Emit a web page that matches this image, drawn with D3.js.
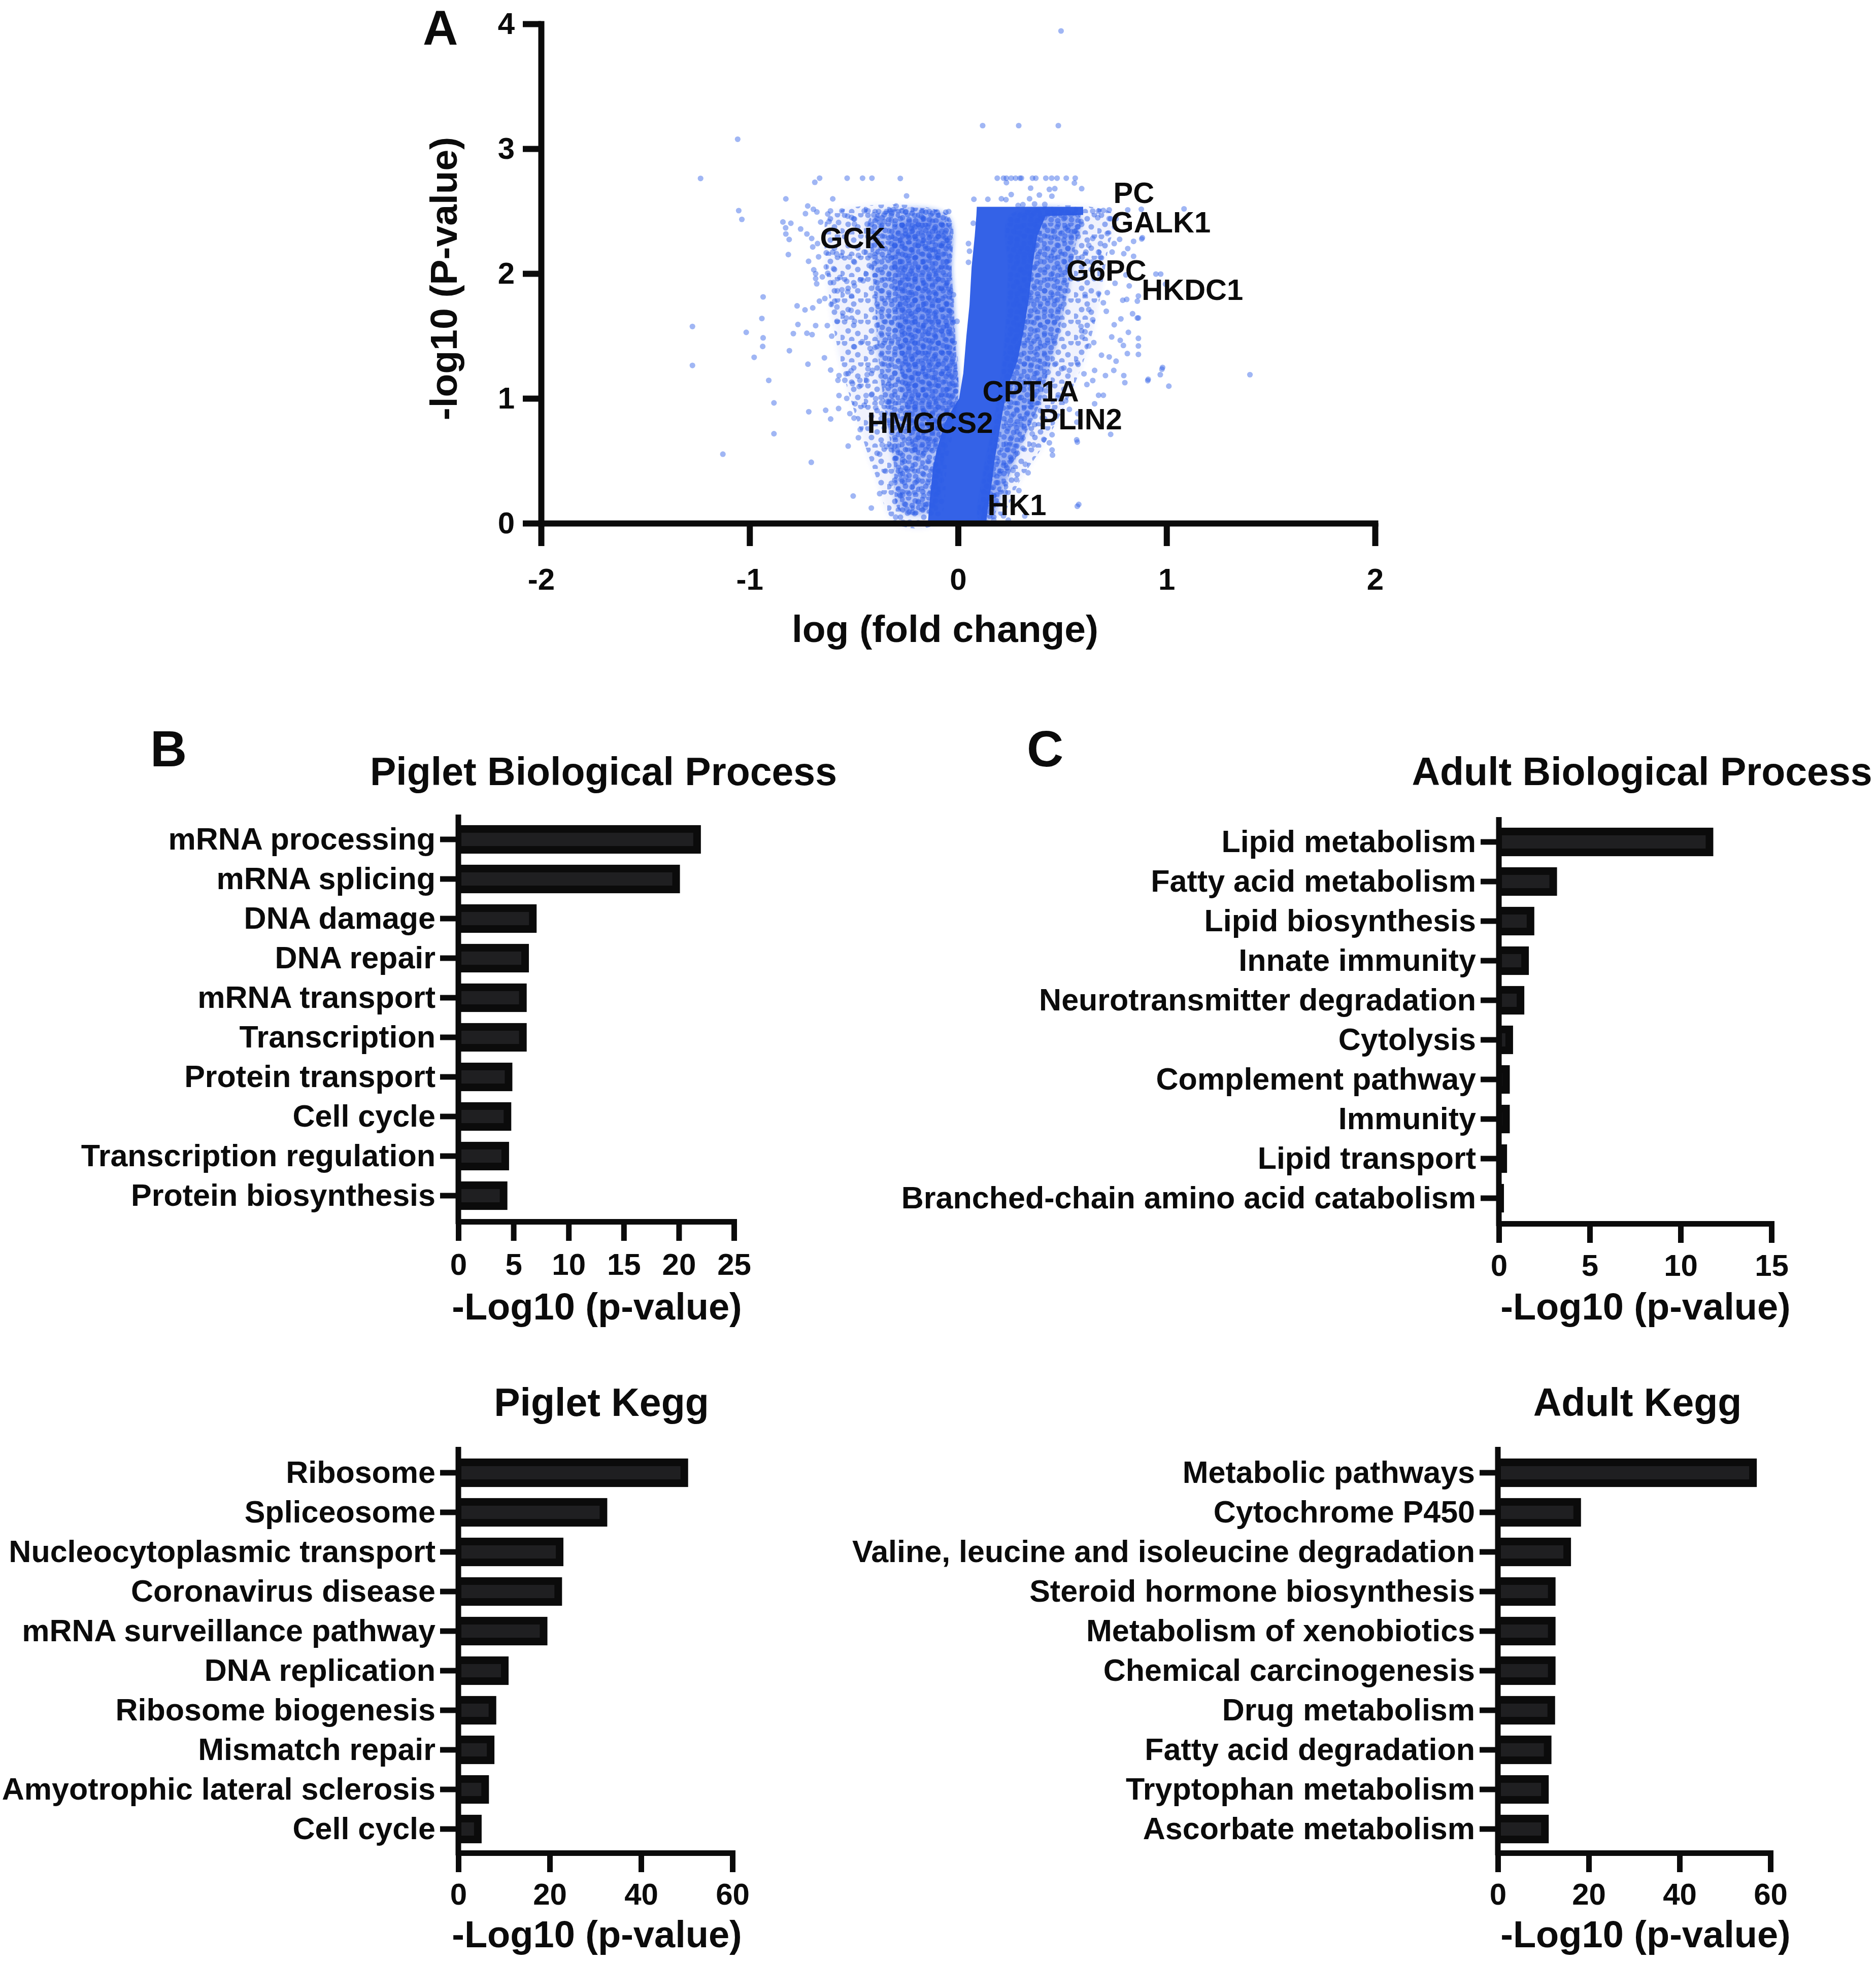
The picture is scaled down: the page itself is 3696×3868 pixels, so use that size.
<!DOCTYPE html>
<html><head><meta charset="utf-8">
<script src="https://cdn.jsdelivr.net/npm/d3@7"></script>
<style>
body{margin:0;background:#fff}
svg text{font-family:"Liberation Sans",Arial,Helvetica,sans-serif;font-weight:bold;fill:#0b0b0b}
</style>
</head><body>
<svg id="fig" width="3696" height="3868" xmlns="http://www.w3.org/2000/svg"></svg>
<script>
// ---------------- DATA ----------------
// Panel A: volcano plot, [log fold change, -log10 P]
const volcanoXTicks = [-2, -1, 0, 1, 2];
const volcanoYTicks = [0, 1, 2, 3, 4];
const volcanoPoints = [
[-1.057,3.076],[-1.235,2.762],[-0.664,2.764],[-0.687,2.731],[-0.532,2.764],[-0.458,2.764],[-0.413,2.764],[-0.277,2.762],[-0.247,2.622],[-0.826,2.598],[-0.601,2.598],[-1.052,2.504],[-1.037,2.434],[-0.721,2.541],[-0.732,2.480],[-0.694,2.515],[-0.677,2.493],[-0.612,2.502],[-0.557,2.502],[-0.625,2.477],[-0.529,2.460],[-0.511,2.450],[-0.497,2.437],[-0.450,2.502],[-0.432,2.502],[-0.381,2.497],[-0.343,2.497],[-0.325,2.502],[-0.311,2.511],[-0.297,2.541],[-0.269,2.502],[-0.250,2.497],[-0.171,2.497],[-0.138,2.497],[-0.101,2.493],[-0.059,2.491],[-0.045,2.497],[-0.840,2.413],[-0.827,2.366],[-0.802,2.403],[-0.826,2.317],[-0.810,2.273],[-0.814,2.152],[-0.755,2.357],[-0.717,2.098],[-0.659,2.412],[-0.619,2.416],[-0.573,2.409],[-0.497,2.396],[-0.436,2.396],[-0.404,2.470],[-0.376,2.409],[-0.353,2.416],[-0.320,2.427],[-0.269,2.389],[-0.218,2.385],[-0.180,2.365],[-0.176,2.457],[-0.078,2.338],[-0.061,2.285],[-0.725,2.317],[-0.702,2.281],[-0.697,2.213],[-0.674,2.240],[-0.669,2.134],[-0.632,2.166],[-0.601,2.172],[-0.583,2.159],[-0.560,2.142],[-0.632,2.053],[-0.597,2.039],[-0.692,2.030],[-0.683,1.999],[-0.683,1.960],[-0.678,1.918],[-0.651,1.973],[-0.625,2.002],[-0.597,1.928],[-0.567,1.969],[-0.534,1.938],[-0.579,1.861],[-0.557,1.870],[-0.529,1.854],[-0.511,1.820],[-0.497,1.901],[-0.469,1.949],[-0.455,1.942],[-0.441,1.996],[-0.426,2.064],[-0.497,2.091],[-0.520,2.132],[-0.478,2.145],[-0.450,2.172],[-0.422,2.145],[-0.935,1.813],[-0.941,1.640],[-1.274,1.576],[-0.772,1.741],[-0.734,1.709],[-0.697,1.725],[-0.665,1.779],[-0.639,1.800],[-0.608,1.752],[-0.592,1.779],[-0.581,1.732],[-0.768,1.592],[-0.683,1.583],[-0.627,1.583],[-0.581,1.617],[-0.553,1.684],[-0.536,1.644],[-0.513,1.705],[-0.497,1.617],[-0.022,1.830],[-0.005,1.617],[-0.320,2.240],[-0.236,2.308],[-0.190,2.254],[-0.134,2.186],[-0.087,2.227],[-0.097,2.145],
[-1.016,1.529],[-0.935,1.485],[-0.937,1.416],[-0.978,1.329],[-1.274,1.264],[-0.908,1.144],[-0.883,0.964],[-0.883,0.717],[-1.128,0.553],[-0.790,1.519],[-0.725,1.522],[-0.700,1.511],[-0.606,1.499],[-0.809,1.382],[-0.641,1.325],[-0.720,1.274],[-0.611,1.227],[-0.571,1.183],[-0.576,1.145],[-0.543,1.145],[-0.537,1.197],[-0.513,1.221],[-0.506,1.118],[-0.471,1.145],[-0.474,1.095],[-0.571,1.023],[-0.534,1.000],[-0.494,0.957],[-0.573,0.919],[-0.716,0.893],[-0.635,0.905],[-0.611,0.835],[-0.519,0.878],[-0.499,0.842],[-0.469,0.750],[-0.478,0.685],[-0.527,0.618],[-0.376,0.553],[-0.364,0.628],[-0.343,0.614],[-0.320,0.617],[-0.292,0.587],[-0.297,0.519],[-0.266,0.510],[-0.348,0.418],[-0.275,0.424],[-0.246,0.435],[-0.250,0.370],[-0.273,0.350],[-0.320,0.320],[-0.197,0.336],[-0.704,0.488],[-0.503,0.218],[-0.376,0.237],[-0.280,0.228],[-0.266,0.228],[-0.416,0.122],[-0.299,0.049],[-0.245,0.113],[-0.218,0.088],[-0.190,0.167],[-0.169,0.147],[-0.157,0.126],[-0.264,0.008],[-0.232,0.008],[-0.497,1.413],[-0.460,1.454],[-0.422,1.400],[-0.399,1.407],[-0.436,1.190],[-0.410,1.224],[-0.432,1.237],[-0.438,1.142],[-0.395,0.998],[-0.367,0.966],[-0.339,0.973],[-0.315,0.980],[-0.413,1.034],[-0.441,1.023],[-0.450,0.946],[-0.395,0.926],[-0.367,0.878],
[0.118,3.185],[0.291,3.185],[0.481,3.185],[0.494,3.943],
[0.188,2.764],[0.218,2.764],[0.232,2.764],[0.255,2.764],[0.276,2.764],[0.297,2.764],[0.304,2.764],[0.357,2.764],[0.373,2.764],[0.421,2.764],[0.449,2.764],[0.475,2.764],[0.519,2.764],[0.562,2.764],[0.232,2.728],[0.558,2.725],
[0.348,2.684],[0.438,2.674],[0.464,2.680],[0.593,2.680],[0.390,2.629],[0.450,2.620],[0.255,2.633],[0.230,2.592],[0.208,2.599],[0.076,2.595],[0.143,2.595],[0.343,2.599],[0.416,2.554],[0.367,2.558],[0.311,2.552],[0.288,2.545],
[0.646,2.500],[0.674,2.500],[0.697,2.505],[0.725,2.510],[0.725,2.440],[0.758,2.440],[0.814,2.510],[0.879,2.515],[1.084,2.518],
[0.590,2.416],[0.576,2.376],[0.516,2.362],[0.544,2.335],[0.572,2.321],[0.670,2.447],[0.716,2.321],[0.749,2.240],[0.775,2.274],[0.842,2.258],[0.884,2.287],[0.814,2.200],[0.795,2.159],[0.739,2.172],[0.842,2.138],[0.683,2.240],[0.674,2.172],[0.646,2.281],[0.627,2.226],[0.613,2.172],[0.595,2.132],[0.641,2.091],[0.683,2.132],
[0.949,1.996],[0.972,1.996],[0.995,1.915],[0.821,1.901],[0.753,1.922],[0.716,1.847],[0.674,1.840],[0.809,1.793],[0.860,1.779],[0.837,1.678],[0.860,1.644],[0.781,1.637],[0.697,1.766],[0.711,1.698],[0.749,1.590],[0.627,1.712],[0.646,1.630],[0.590,1.576],[0.609,1.833],
[0.050,2.240],[0.055,2.179],[0.050,2.090],[0.073,2.403],
[0.817,1.529],[0.737,1.492],[0.778,1.465],[0.793,1.424],[0.865,1.420],[0.865,1.352],[0.812,1.359],[0.758,1.298],[0.725,1.332],[0.688,1.346],[0.651,1.447],[0.627,1.420],[0.595,1.492],[0.609,1.533],[0.572,1.285],[0.604,1.197],[0.655,1.224],[0.707,1.183],[0.747,1.224],[0.795,1.183],[0.800,1.126],[0.912,1.153],[0.970,1.190],[0.981,1.248],[1.011,1.098],[1.400,1.190],[0.618,1.111],[0.646,1.143],[0.674,1.025],[0.697,1.025],[0.655,0.957],[0.574,0.878],[0.570,0.810],[0.534,0.912],[0.732,0.712],[0.569,0.668],[0.451,0.709],[0.411,0.671],[0.438,0.644],[0.451,0.587],[0.453,0.546],[0.362,0.628],[0.356,0.716],[0.311,0.600],[0.323,0.472],[0.336,0.404],[0.276,0.553],[0.280,0.350],[0.227,0.316],[0.320,0.058],[0.241,0.025],[0.171,0.025],[0.579,0.151],[0.292,0.262],[0.255,0.506],
[0.497,1.237],[0.534,1.224],[0.469,1.278],[0.432,1.210],[0.385,1.143],[0.423,1.061],[0.479,1.007],[0.516,0.980],[0.451,0.899],[0.357,0.953],[0.329,0.871],[0.302,0.790],[0.367,0.790],[0.404,0.844],[0.311,0.682],[0.246,0.628],[0.218,0.465],[0.199,0.397],[0.264,0.424],[0.171,0.221],[0.227,0.248],[0.153,0.126],[0.218,0.059],
[0.978,1.234],[0.910,1.142],[0.865,1.481],[0.865,1.644],[0.790,1.786],[0.865,1.820],[0.805,1.989],[0.881,2.277],[0.572,0.650],[0.572,0.136]
];
// Envelopes of the regions where the points overlap (solid core, then dense / medium / sparse clouds)
const denseCore = [
[0.090,2.535],[0.600,2.535],[0.600,2.470],[0.420,2.460],[0.380,2.300],[0.360,2.100],[0.340,1.800],[0.315,1.550],[0.285,1.300],[0.240,1.100],[0.215,0.900],[0.195,0.700],[0.175,0.500],[0.160,0.300],[0.145,0.150],[0.135,0.000],
[-0.145,0.000],[-0.135,0.200],[-0.120,0.450],[-0.100,0.600],[-0.065,0.800],[-0.025,0.920],[0.005,1.000],[0.025,1.200],[0.040,1.500],[0.055,1.750],[0.065,2.050],[0.080,2.300],[0.088,2.470]
];
const leftCloudSparse = [
[-0.62,2.47],[-0.06,2.47],[-0.03,2.00],[0.0,1.00],[-0.05,0.50],[-0.10,0.00],[-0.30,0.00],[-0.40,0.40],[-0.48,0.80],[-0.55,1.20],[-0.60,1.60],[-0.63,2.00],[-0.64,2.30]
];
const leftCloudMedium = [
[-0.42,2.45],[-0.05,2.47],[-0.03,2.00],[-0.01,1.40],[0.0,1.00],[-0.06,0.60],[-0.12,0.10],[-0.28,0.10],[-0.31,0.50],[-0.35,0.90],[-0.38,1.30],[-0.40,1.80],[-0.42,2.20]
];
const leftCloudDense = [
[-0.30,2.38],[-0.06,2.42],[-0.035,2.00],[-0.015,1.40],[-0.005,1.00],[-0.08,0.70],[-0.20,0.55],[-0.25,0.90],[-0.28,1.30],[-0.30,1.80]
];
const rightCloudSparse = [
[0.30,2.47],[0.75,2.47],[0.72,2.20],[0.68,1.80],[0.64,1.50],[0.58,1.20],[0.50,0.90],[0.40,0.60],[0.30,0.35],[0.20,0.05],[0.12,0.05],[0.20,0.60],[0.25,1.20],[0.28,2.00]
];
const rightCloudMedium = [
[0.25,2.47],[0.58,2.47],[0.56,2.20],[0.53,1.90],[0.48,1.50],[0.43,1.20],[0.39,0.95],[0.32,0.70],[0.26,0.45],[0.20,0.20],[0.16,0.03],[0.10,0.03],[0.12,0.40],[0.18,0.90],[0.22,1.40],[0.24,2.00]
];
const geneNames = ["PC","GALK1","GCK","G6PC","HKDC1","CPT1A","HMGCS2","PLIN2","HK1"];
const geneLabelX = [0.745, 0.733, -0.662, 0.519, 0.881, 0.117, -0.436, 0.387, 0.141];
const geneLabelY = [2.565, 2.330, 2.203, 1.943, 1.789, 0.975, 0.724, 0.752, 0.065];

// Panel B / C bar charts
const pigletBPCategories = ["mRNA processing","mRNA splicing","DNA damage","DNA repair","mRNA transport","Transcription","Protein transport","Cell cycle","Transcription regulation","Protein biosynthesis"];
const pigletBPValues = [22.0, 20.1, 7.1, 6.4, 6.2, 6.2, 4.9, 4.8, 4.6, 4.45];
const pigletBPTicks = [0, 5, 10, 15, 20, 25];

const adultBPCategories = ["Lipid metabolism","Fatty acid metabolism","Lipid biosynthesis","Innate immunity","Neurotransmitter degradation","Cytolysis","Complement pathway","Immunity","Lipid transport","Branched-chain amino acid catabolism"];
const adultBPValues = [11.8, 3.2, 1.95, 1.65, 1.4, 0.78, 0.6, 0.6, 0.45, 0.28];
const adultBPTicks = [0, 5, 10, 15];

const pigletKeggCategories = ["Ribosome","Spliceosome","Nucleocytoplasmic transport","Coronavirus disease","mRNA surveillance pathway","DNA replication","Ribosome biogenesis","Mismatch repair","Amyotrophic lateral sclerosis","Cell cycle"];
const pigletKeggValues = [50.3, 32.6, 23.0, 22.7, 19.5, 11.0, 8.3, 7.9, 6.7, 5.1];
const pigletKeggTicks = [0, 20, 40, 60];

const adultKeggCategories = ["Metabolic pathways","Cytochrome P450","Valine, leucine and isoleucine degradation","Steroid hormone biosynthesis","Metabolism of xenobiotics","Chemical carcinogenesis","Drug metabolism","Fatty acid degradation","Tryptophan metabolism","Ascorbate metabolism"];
const adultKeggValues = [57.0, 18.3, 16.1, 12.7, 12.7, 12.7, 12.6, 11.8, 11.2, 11.2];
const adultKeggTicks = [0, 20, 40, 60];

// ---------------- DRAWING ----------------
const svg = d3.select("#fig");
const INK = "#0b0b0b";
const BLUE = "#2d5de6";
const FONT = '"Liberation Sans", Arial, Helvetica, sans-serif';

// dotted textures used to render the overlapping-point clouds
const defs = svg.append("defs");
function dotPattern(id, w, h, dots, op, shift) {
  const p = defs.append("pattern").attr("id", id).attr("patternUnits", "userSpaceOnUse")
    .attr("width", w).attr("height", h).attr("patternTransform", `translate(${shift[0]},${shift[1]})`);
  dots.forEach(d => p.append("circle").attr("cx", d[0]).attr("cy", d[1]).attr("r", 5.6).attr("fill", BLUE).attr("fill-opacity", op));
}
const tileA = [[4,5],[17,2],[30,8],[11,15],[24,17],[37,21],[5,26],[18,30],[31,32]];
const tileB = [[8,4],[26,11],[40,3],[15,22],[34,27],[3,35],[22,39]];
dotPattern("dotsSparse", 46, 42, tileB, 0.5, [0, 0]);
dotPattern("dotsMed", 40, 36, tileA, 0.55, [13, 7]);
dotPattern("dotsDense", 46, 42, tileB, 0.55, [21, 19]);
defs.append("filter").attr("id", "soft").attr("x", "-10%").attr("y", "-10%").attr("width", "120%").attr("height", "120%")
  .append("feGaussianBlur").attr("stdDeviation", 5);

function styleAxis(g, lw, fs) {
  g.attr("font-family", FONT).attr("font-size", fs).attr("font-weight", "bold").attr("color", INK);
  g.selectAll("path.domain").attr("stroke-width", lw).attr("stroke-linecap", "square");
  g.selectAll(".tick line").attr("stroke-width", lw);
}

// ----- Panel A -----
const xA = d3.scaleLinear().domain([-2, 2]).range([1066, 2709]);
const yA = d3.scaleLinear().domain([0, 4]).range([1031, 47]);
const gA = svg.append("g");
const blob = d3.line().x(d => xA(d[0])).y(d => yA(d[1])).curve(d3.curveCatmullRomClosed.alpha(0.5));
function cloud(data, pattern, base) {
  if (base > 0) gA.append("path").datum(data).attr("d", blob).attr("fill", BLUE).attr("fill-opacity", base).attr("filter", "url(#soft)");
  gA.append("path").datum(data).attr("d", blob).attr("fill", `url(#${pattern})`);
}
cloud(leftCloudSparse, "dotsSparse", 0.08);
cloud(rightCloudSparse, "dotsSparse", 0.08);
cloud(leftCloudMedium, "dotsMed", 0.32);
cloud(rightCloudMedium, "dotsMed", 0.45);
cloud(leftCloudDense, "dotsDense", 0.4);
gA.append("path").datum(denseCore).attr("d", d3.line().x(d => xA(d[0])).y(d => yA(d[1])).curve(d3.curveLinearClosed))
  .attr("fill", BLUE).attr("fill-opacity", 0.97);
gA.selectAll("circle.pt").data(volcanoPoints).join("circle").attr("class", "pt")
  .attr("cx", d => xA(d[0])).attr("cy", d => yA(d[1])).attr("r", 5.6)
  .attr("fill", BLUE).attr("fill-opacity", 0.45);

const axAx = gA.append("g").attr("transform", `translate(0,${yA(0)})`)
  .call(d3.axisBottom(xA).tickValues(volcanoXTicks).tickSize(45).tickSizeOuter(0).tickPadding(43).tickFormat(d => String(d)));
styleAxis(axAx, 12, 60);
const axAy = gA.append("g").attr("transform", `translate(${xA(-2)},0)`)
  .call(d3.axisLeft(yA).tickValues(volcanoYTicks).tickSize(36).tickSizeOuter(0).tickPadding(16).tickFormat(d => String(d)));
styleAxis(axAy, 12, 60);

gA.selectAll("text.gene").data(geneNames).join("text").attr("class", "gene")
  .attr("x", (d, i) => xA(geneLabelX[i])).attr("y", (d, i) => yA(geneLabelY[i]))
  .attr("font-size", 58).text(d => d);

gA.append("text").attr("x", 1862).attr("y", 1265).attr("text-anchor", "middle").attr("font-size", 75).text("log (fold change)");
gA.append("text").attr("transform", "translate(900,549) rotate(-90)").attr("text-anchor", "middle").attr("font-size", 75).text("-log10 (P-value)");

// panel letters
svg.append("text").attr("x", 833).attr("y", 88).attr("font-size", 96).text("A");
svg.append("text").attr("x", 296).attr("y", 1510).attr("font-size", 100).text("B");
svg.append("text").attr("x", 2023).attr("y", 1510).attr("font-size", 100).text("C");

// ----- bar panels -----
function barPanel(o) {
  const g = svg.append("g");
  const x = d3.scaleLinear().domain([0, o.max]).range([o.x0, o.x1]);
  const step = 78;
  const y = d3.scaleBand().domain(o.cats).range([o.r0, o.r0 + o.cats.length * step]).paddingInner(0.28).paddingOuter(0.14);
  const rows = o.cats.map((c, i) => ({ c, v: o.vals[i] }));
  g.selectAll("rect.outer").data(rows).join("rect").attr("class", "outer")
    .attr("x", x(0)).attr("y", d => y(d.c)).attr("width", d => x(d.v) - x(0)).attr("height", y.bandwidth())
    .attr("fill", INK);
  const inset = 15;
  g.selectAll("rect.inner").data(rows).join("rect").attr("class", "inner")
    .attr("x", x(0) + 6).attr("y", d => y(d.c) + inset)
    .attr("width", d => Math.max(0, x(d.v) - x(0) - inset - 6)).attr("height", y.bandwidth() - 2 * inset)
    .attr("fill", "#1f1f21");
  const ay = g.append("g").attr("transform", `translate(${o.x0},0)`)
    .call(d3.axisLeft(y).tickSize(36).tickPadding(9));
  styleAxis(ay, 11, 61);
  ay.select("path.domain").remove();
  g.append("line").attr("x1", o.x0).attr("x2", o.x0).attr("y1", o.top).attr("y2", o.bottom + 5)
    .attr("stroke", INK).attr("stroke-width", 11);
  const ax = g.append("g").attr("transform", `translate(0,${o.bottom})`)
    .call(d3.axisBottom(x).tickValues(o.ticks).tickSize(38).tickSizeOuter(0).tickPadding(o.tp).tickFormat(d => String(d)));
  styleAxis(ax, 11, 60);
  g.append("text").attr("x", o.titleX).attr("y", o.titleY).attr("text-anchor", "middle").attr("font-size", 77).text(o.title);
  g.append("text").attr("x", o.xtX).attr("y", o.xtY).attr("text-anchor", "middle").attr("font-size", 74).text("-Log10 (p-value)");
}

barPanel({cats: pigletBPCategories, vals: pigletBPValues, ticks: pigletBPTicks, max: 25,
  x0: 903, x1: 1446, r0: 1615, top: 1605, bottom: 2407, tp: 24,
  title: "Piglet Biological Process", titleX: 1189, titleY: 1547, xtX: 1176, xtY: 2600});
barPanel({cats: adultBPCategories, vals: adultBPValues, ticks: adultBPTicks, max: 15,
  x0: 2953, x1: 3490, r0: 1620, top: 1610, bottom: 2411, tp: 22,
  title: "Adult Biological Process", titleX: 3235, titleY: 1547, xtX: 3242, xtY: 2600});
barPanel({cats: pigletKeggCategories, vals: pigletKeggValues, ticks: pigletKeggTicks, max: 60,
  x0: 903, x1: 1443, r0: 2863, top: 2851, bottom: 3651, tp: 21,
  title: "Piglet Kegg", titleX: 1185, titleY: 2790, xtX: 1176, xtY: 3837});
barPanel({cats: adultKeggCategories, vals: adultKeggValues, ticks: adultKeggTicks, max: 60,
  x0: 2951, x1: 3488, r0: 2863, top: 2851, bottom: 3651, tp: 21,
  title: "Adult Kegg", titleX: 3226, titleY: 2790, xtX: 3242, xtY: 3837});
</script>
</body></html>
